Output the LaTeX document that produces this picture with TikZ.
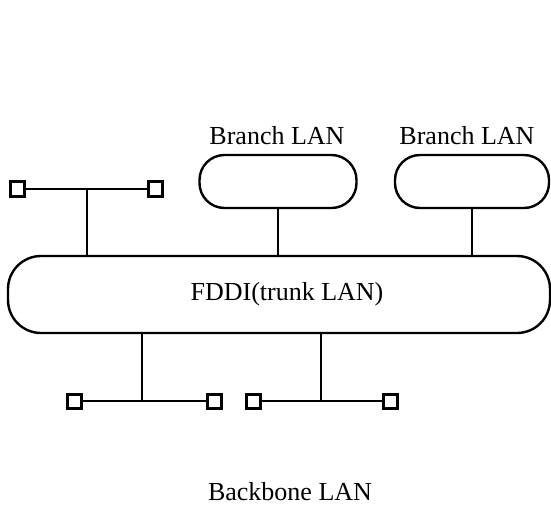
\documentclass[tikz,border=0pt]{standalone}
\usepackage{fontspec}
\setmainfont{Liberation Serif}
\tikzset{
  lan/.style={draw, line width=2.4pt, rectangle, inner sep=0pt},
  host/.style={draw, line width=3pt, rectangle, minimum size=14pt, inner sep=0pt},
  bus/.style={line width=2pt},
  lbl/.style={font=\fontsize{26}{30}\selectfont, inner sep=0pt}
}
\begin{document}
\begin{tikzpicture}[x=1pt,y=-1pt]
        \useasboundingbox (0,0) rectangle (551,505);
        % trunk ring and branch rings
        \node[lan, rounded corners=33pt, minimum width=542pt, minimum height=77pt] (trunk) at (279,294.5) {};
        \node[lbl] (trunklabel) at (287,294) {FDDI(trunk LAN)};
        \node[lan, rounded corners=25pt, minimum width=157pt, minimum height=53pt] (branchA) at (278,181.5) {};
        \node[lan, rounded corners=25pt, minimum width=154pt, minimum height=53pt] (branchB) at (472,181.5) {};
        \node[lbl, anchor=base] (branchAlabel) at (277,145) {Branch LAN};
        \node[lbl, anchor=base] (branchBlabel) at (467,145) {Branch LAN};
        \node[lbl, anchor=base] (backbone) at (290,500) {Backbone LAN};
        % hosts
        \node[host] (hostA) at (17,189) {};
        \node[host] (hostB) at (155,189) {};
        \node[host] (hostC) at (74,401) {};
        \node[host] (hostD) at (214,401) {};
        \node[host] (hostE) at (253,401) {};
        \node[host] (hostF) at (390,401) {};
        \coordinate (tapA) at (87,189);
        \coordinate (tapB) at (142,401);
        \coordinate (tapC) at (321,401);
        % buses and stems
        \draw[bus] (hostA) -- (hostB);
        \draw[bus] (hostC) -- (hostD);
        \draw[bus] (hostE) -- (hostF);
        \draw[bus] (tapA) -- (tapA |- trunk.north);
        \draw[bus] (tapB) -- (tapB |- trunk.south);
        \draw[bus] (tapC) -- (tapC |- trunk.south);
        \draw[bus] (branchA.south) -- (branchA.south |- trunk.north);
        \draw[bus] (branchB.south) -- (branchB.south |- trunk.north);
    \end{tikzpicture}
\end{document}
